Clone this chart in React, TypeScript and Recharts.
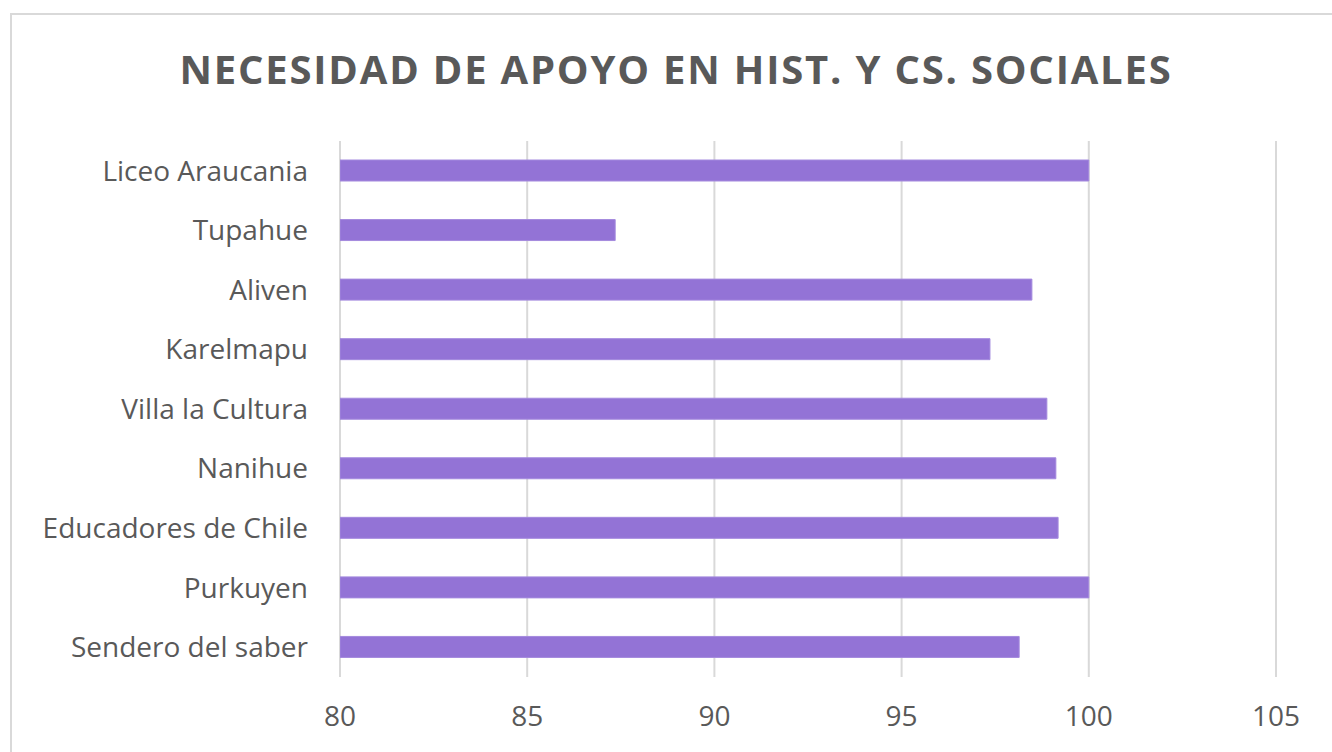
import { BarChart, Bar, XAxis, YAxis, CartesianGrid } from "recharts";

const schools = [
  "Liceo Araucania",
  "Tupahue",
  "Aliven",
  "Karelmapu",
  "Villa la Cultura",
  "Nanihue",
  "Educadores de Chile",
  "Purkuyen",
  "Sendero del saber",
];

const needValues = [100, 87.35, 98.48, 97.36, 98.88, 99.12, 99.18, 100, 98.14];

const xTicks = [80, 85, 90, 95, 100, 105];

const data = schools.map((name, i) => ({ name, value: needValues[i] }));

const FONT = "'Open Sans', Lato, sans-serif";
const TEXT = "#595959";

export default function App() {
  return (
    <div
      style={{
        position: "absolute",
        left: 0,
        top: 0,
        width: 1332,
        height: 752,
        background: "#fff",
        overflow: "hidden",
        fontFamily: FONT,
      }}
    >
      {/* chart frame, runs off the right and bottom edge */}
      <div
        style={{
          position: "absolute",
          left: 10,
          top: 13,
          width: 1400,
          height: 800,
          border: "2px solid #d9d9d9",
        }}
      />
      <div
        style={{
          position: "absolute",
          left: 0,
          top: 42,
          width: 1352,
          textAlign: "center",
          fontSize: 40,
          fontWeight: 700,
          letterSpacing: 1.8,
          color: TEXT,
          lineHeight: "54px",
        }}
      >
        NECESIDAD DE APOYO EN HIST. Y CS. SOCIALES
      </div>
      <div style={{ position: "absolute", left: 0, top: 0 }}>
        <BarChart
          width={1332}
          height={752}
          data={data}
          layout="vertical"
          margin={{ top: 141, right: 56, left: 0, bottom: 0 }}
          barSize={21}
        >
          <CartesianGrid horizontal={false} stroke="#d9d9d9" strokeWidth={2} />
          <XAxis
            type="number"
            domain={[80, 105]}
            ticks={xTicks}
            allowDataOverflow
            axisLine={false}
            tickLine={false}
            tickSize={0}
            tickMargin={29}
            height={75}
            tick={{ fill: TEXT, fontSize: 28, fontFamily: FONT }}
          />
          <YAxis
            type="category"
            dataKey="name"
            width={340}
            axisLine={false}
            tickLine={false}
            tickSize={0}
            tickMargin={32}
            interval={0}
            tick={{ fill: TEXT, fontSize: 28, fontFamily: FONT }}
          />
          <Bar
            dataKey="value"
            fill="#9373d6"
            stroke="#a48ade"
            strokeWidth={1}
            isAnimationActive={false}
          />
        </BarChart>
      </div>
    </div>
  );
}
